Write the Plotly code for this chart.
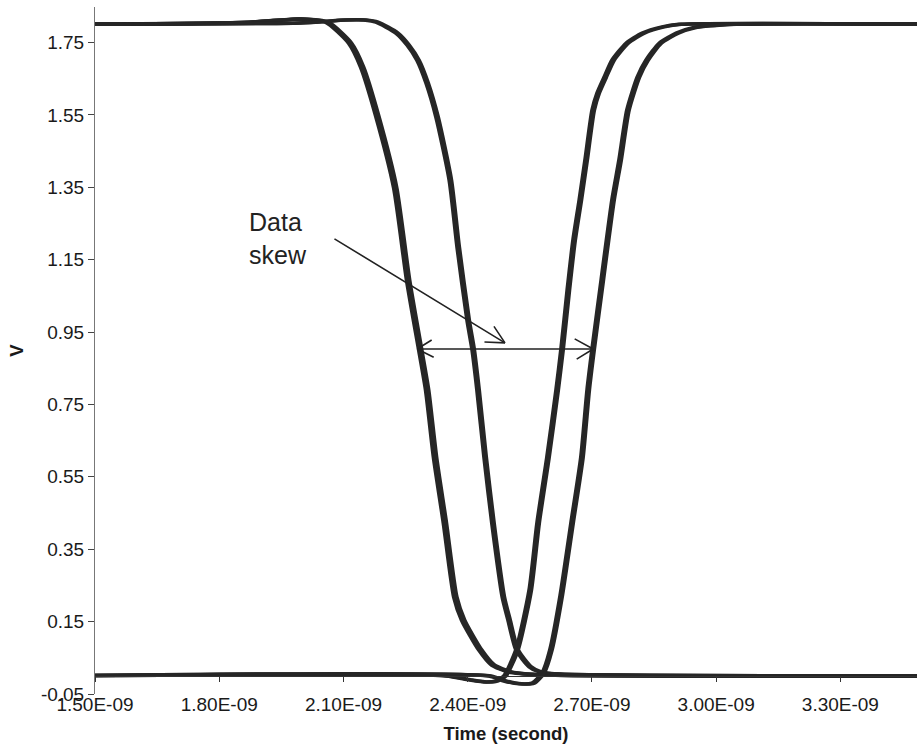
import plotly.graph_objects as go

# ---------------- data (time in ns, voltage in V) ----------------
# Group A: early falling edges
time_A_ns = [1.400, 1.874, 1.995, 2.060, 2.116, 2.145, 2.181, 2.225, 2.256, 2.285, 2.302,
             2.321, 2.345, 2.370, 2.389, 2.430, 2.461, 2.502, 2.575, 3.600]
volt_A = [1.800, 1.806, 1.815, 1.806, 1.748, 1.682, 1.549, 1.348, 1.094, 0.903, 0.790,
          0.605, 0.422, 0.218, 0.154, 0.072, 0.030, 0.011, 0.003, 0.000]
skew_A_ns = [-0.004, 0.0, 0.004]

# Group B: late falling edges
time_B_ns = [1.400, 1.995, 2.104, 2.152, 2.181, 2.229, 2.256, 2.280, 2.302, 2.326, 2.358,
             2.377, 2.401, 2.413, 2.425, 2.442, 2.461, 2.486, 2.500, 2.519, 2.551, 2.575,
             2.623, 3.600]
volt_B = [1.800, 1.804, 1.812, 1.812, 1.806, 1.776, 1.743, 1.701, 1.638, 1.544, 1.370,
          1.185, 0.983, 0.903, 0.790, 0.605, 0.422, 0.218, 0.154, 0.072, 0.025, 0.011,
          0.005, 0.000]
skew_B_ns = [-0.003, 0.003]

# Group C: early rising edges
time_C_ns = [1.400, 2.350, 2.406, 2.447, 2.471, 2.490, 2.519, 2.551, 2.570, 2.594, 2.616,
             2.628, 2.643, 2.657, 2.672, 2.686, 2.703, 2.715, 2.732, 2.751, 2.785, 2.824,
             2.872, 2.913, 3.600]
volt_C = [0.000, 0.000, -0.011, -0.017, -0.014, 0.000, 0.072, 0.237, 0.422, 0.605, 0.790,
          0.903, 1.066, 1.204, 1.315, 1.425, 1.563, 1.610, 1.654, 1.701, 1.748, 1.776,
          1.793, 1.800, 1.800]
skew_C_ns = [-0.003, 0.003]

# Group D: late rising edges
time_D_ns = [1.400, 2.454, 2.490, 2.527, 2.558, 2.582, 2.601, 2.626, 2.652, 2.676, 2.691,
             2.703, 2.725, 2.751, 2.768, 2.787, 2.812, 2.833, 2.865, 2.906, 2.944, 3.046,
             3.600]
volt_D = [0.000, 0.000, -0.014, -0.022, -0.020, 0.008, 0.072, 0.223, 0.422, 0.605, 0.790,
          0.903, 1.094, 1.315, 1.425, 1.563, 1.654, 1.701, 1.748, 1.776, 1.790, 1.800,
          1.800]
skew_D_ns = [-0.003, 0.003]

x_tick_vals_ns = [1.5, 1.8, 2.1, 2.4, 2.7, 3.0, 3.3]
x_tick_text = ["1.50E-09", "1.80E-09", "2.10E-09", "2.40E-09", "2.70E-09", "3.00E-09", "3.30E-09"]
y_tick_vals = [-0.05, 0.15, 0.35, 0.55, 0.75, 0.95, 1.15, 1.35, 1.55, 1.75]
y_tick_text = ["-0.05", "0.15", "0.35", "0.55", "0.75", "0.95", "1.15", "1.35", "1.55", "1.75"]

# annotation anchor points (data units)
skew_label_pos = (1.867, 1.208)
skew_pointer_tip = (2.490, 0.920)
skew_span = (2.278, 2.703, 0.903)

FONT = "Liberation Sans, Arial, sans-serif"
INK = "#262626"

fig = go.Figure()
groups = [(time_A_ns, volt_A, skew_A_ns), (time_B_ns, volt_B, skew_B_ns),
          (time_C_ns, volt_C, skew_C_ns), (time_D_ns, volt_D, skew_D_ns)]
for t, v, skews in groups:
    for s in skews:
        fig.add_trace(go.Scatter(
            x=[ti + s for ti in t], y=v, mode="lines",
            line=dict(color=INK, width=3.5, shape="spline", smoothing=0.6),
            showlegend=False, hoverinfo="skip"))

y_range = [-0.05, 1.848]
zero_pos = (0 - y_range[0]) / (y_range[1] - y_range[0])

fig.update_layout(
    width=917, height=747,
    margin=dict(l=95, r=0, t=7, b=53),
    paper_bgcolor="white", plot_bgcolor="white",
    font=dict(family=FONT, color="#1a1a1a", size=19),
    xaxis=dict(
        range=[1.5, 3.485], anchor="free", position=zero_pos,
        tickvals=x_tick_vals_ns, ticktext=x_tick_text,
        ticks="outside", ticklen=5, tickcolor="#333", tickwidth=1,
        showline=True, linecolor="#333", linewidth=1,
        showgrid=False, zeroline=False,
        ticklabelstandoff=6,
        tickfont=dict(size=19, family=FONT),
        title=dict(text="<b>Time (second)</b>", font=dict(size=18.5, family=FONT), standoff=13),
    ),
    yaxis=dict(
        range=y_range, tickvals=y_tick_vals, ticktext=y_tick_text,
        ticks="outside", ticklen=6, tickcolor="#444", tickwidth=1,
        showline=True, linecolor="#777", linewidth=1,
        showgrid=False, zeroline=False,
        tickfont=dict(size=19, family=FONT),
        title=dict(text="<b>V</b>", font=dict(size=18.5, family=FONT), standoff=12),
    ),
)

# "Data skew" label
fig.add_annotation(x=skew_label_pos[0], y=skew_label_pos[1], xref="x", yref="y",
                   text="Data<br>skew", showarrow=False, xanchor="left", yanchor="middle",
                   align="left", font=dict(size=25, family=FONT, color="#222"))

arrow_style = dict(xref="x", yref="y", text="", showarrow=True, arrowhead=0,
                   arrowwidth=1.6, arrowcolor="#222", standoff=0, startstandoff=0)
# slanted pointer shaft and open head
fig.add_annotation(x=skew_pointer_tip[0], y=skew_pointer_tip[1], ax=-172, ay=-105, **arrow_style)
fig.add_annotation(x=skew_pointer_tip[0], y=skew_pointer_tip[1], ax=-12, ay=-18, **arrow_style)
fig.add_annotation(x=skew_pointer_tip[0], y=skew_pointer_tip[1], ax=-22, ay=-1, **arrow_style)
# double-headed span
x_left, x_right, y_span = skew_span
fig.add_annotation(x=x_right, y=y_span, ax=-176, ay=0, **arrow_style)
fig.add_annotation(x=x_right, y=y_span, ax=-20, ay=-11, **arrow_style)
fig.add_annotation(x=x_right, y=y_span, ax=-18, ay=11, **arrow_style)
fig.add_annotation(x=x_left, y=y_span, ax=16, ay=-10, **arrow_style)
fig.add_annotation(x=x_left, y=y_span, ax=18, ay=9, **arrow_style)

fig.write_html("out.html")
